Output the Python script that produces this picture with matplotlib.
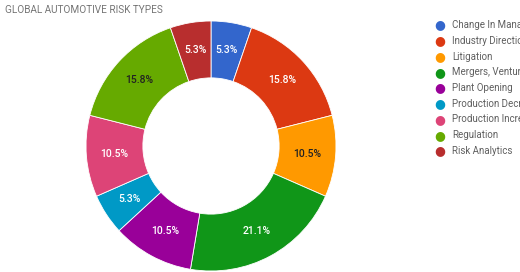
import matplotlib.pyplot as plt

plt.rcParams["font.family"] = ["Roboto", "DejaVu Sans"]

risk_types = ["Change In Management", "Industry Direction", "Litigation",
              "Mergers, Ventures", "Plant Opening", "Production Decrease",
              "Production Increase", "Regulation", "Risk Analytics"]
counts = [1, 3, 2, 4, 2, 1, 2, 3, 1]
colors = ["#3366cc", "#dc3912", "#ff9900", "#109618", "#990099",
          "#0099c6", "#dd4477", "#66aa00", "#b82e2e"]
dark_labels = {"Litigation", "Regulation"}

W, H = 520, 272
fig = plt.figure(figsize=(W / 100, H / 100), dpi=100)

# donut axes: centre ~ (211, 146), radius ~125 px
cx, cy, r = 211, 146, 125
ax = fig.add_axes([(cx - r) / W, 1 - (cy + r) / H, 2 * r / W, 2 * r / H])
wedges, texts, autotexts = ax.pie(
    counts, colors=colors, startangle=90, counterclock=False,
    autopct="%.1f%%", pctdistance=0.775,
    wedgeprops=dict(width=0.455, edgecolor="white", linewidth=0.6),
    textprops=dict(fontsize=7.5, fontweight="medium"))
for name, t in zip(risk_types, autotexts):
    t.set_color("#222222" if name in dark_labels else "white")
ax.set_xlim(-1, 1)
ax.set_ylim(-1, 1)
ax.set_aspect("equal")

fig.text(5 / W, 1 - 10 / H, "GLOBAL AUTOMOTIVE RISK TYPES", fontsize=7.2,
         color="#757575", ha="left", va="center")

# legend (names run past the right edge, as in the original)
y0, dy = 25, 15.75
for i, (name, c) in enumerate(zip(risk_types, colors)):
    y = 1 - (y0 + i * dy) / H
    fig.text(440 / W, y, "\u25CF", color=c, fontsize=9, ha="center", va="center")
    fig.text(452 / W, y, name, color="#5f5f5f", fontsize=7.0, ha="left", va="center")

fig.savefig("out.png", dpi=100)
